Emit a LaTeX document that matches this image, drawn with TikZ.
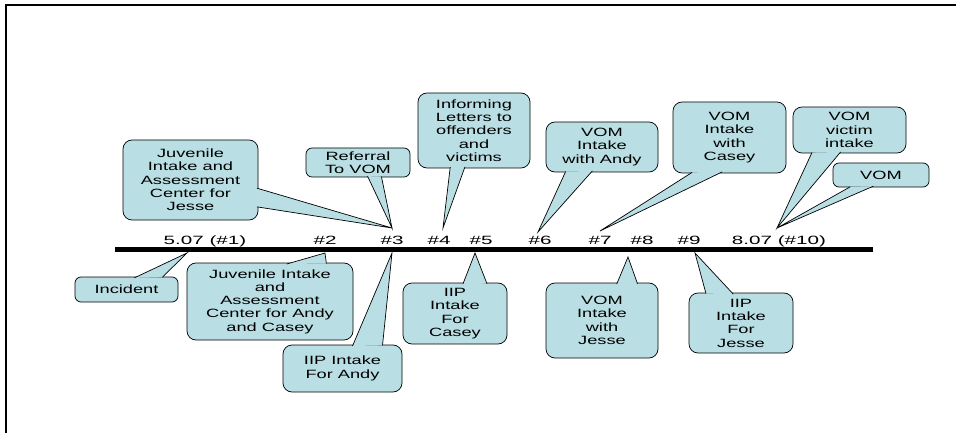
\documentclass[tikz,border=0pt]{standalone}
\usepackage{fontspec}
\setmainfont{Liberation Sans}[FakeStretch=1.52]
\newfontfamily\barfont{Liberation Sans}[FakeStretch=1.72]
\usetikzlibrary{calc}
\definecolor{bubble}{RGB}{185,223,228}

\begin{document}
\begin{tikzpicture}[x=1pt,y=-1pt,
   bubblebox/.style={draw,fill=bubble,rounded corners=9pt,line width=.7pt,
     align=center,inner sep=2pt,font=\fontsize{12}{13.3}\selectfont},
   tail/.style={draw,fill=bubble,line width=.7pt},
   datelabel/.style={anchor=base,font=\barfont\fontsize{12}{14}\selectfont}]
   \useasboundingbox (0,0) rectangle (956,433);
   \draw[line width=2.2pt] (6,433) -- (6,5) -- (956,5);

   % time line
   \coordinate (start) at (115,249.5);
   \coordinate (end) at (873,249.5);
   \draw[line width=5.8pt] (start) -- (end);
   \node[datelabel] (l1) at (205,244) {5.07 (\#1)};
   \node[datelabel] (l2) at (325,244) {\#2};
   \node[datelabel] (l3) at (392,244) {\#3};
   \node[datelabel] (l4) at (439,244) {\#4};
   \node[datelabel] (l5) at (481,244) {\#5};
   \node[datelabel] (l6) at (540,244) {\#6};
   \node[datelabel] (l7) at (600,244) {\#7};
   \node[datelabel] (l8) at (642,244) {\#8};
   \node[datelabel] (l9) at (689,244) {\#9};
   \node[datelabel] (l10) at (779,244) {8.07 (\#10)};

   % tips on the line
   \coordinate (p3) at (392,228);
   \coordinate (p4) at (443,228);
   \coordinate (p6) at (538,232);
   \coordinate (p7) at (600,231);
   \coordinate (p10) at (777,228);
   \coordinate (q1) at (187,253);
   \coordinate (q2) at (325,253);
   \coordinate (q3) at (392,253);
   \coordinate (q5) at (475,253);
   \coordinate (q8) at (628,257);
   \coordinate (q9) at (695,253);

   % above the line
   \node[bubblebox,minimum width=135,minimum height=80] (jesse) at (190.5,180)
     {Juvenile\\Intake and\\Assessment\\Center for\\Jesse};
   \node[bubblebox,rounded corners=6pt,minimum width=104,minimum height=29] (referral) at (358,162.5)
     {Referral\\To VOM};
   \node[bubblebox,minimum width=112,minimum height=75] (letters) at (474,130.5)
     {Informing\\Letters to\\offenders\\and\\victims};
   \node[bubblebox,minimum width=112,minimum height=50] (vomandy) at (602,147)
     {VOM\\Intake\\with Andy};
   \node[bubblebox,minimum width=113,minimum height=71] (vomcasey) at (729.5,137.5)
     {VOM\\Intake\\with\\Casey};
   \node[bubblebox,minimum width=113,minimum height=46] (victim) at (849.5,130)
     {VOM\\victim\\intake};
   \node[bubblebox,rounded corners=6pt,minimum width=96,minimum height=24] (vom) at (881,175)
     {VOM};

   % below the line
   \node[bubblebox,rounded corners=6pt,minimum width=103,minimum height=25] (incident) at (126.5,289.5)
     {Incident};
   \node[bubblebox,minimum width=166,minimum height=77] (juvac) at (270,301.5)
     {Juvenile Intake\\and\\Assessment\\Center for Andy\\and Casey};
   \node[bubblebox,minimum width=119,minimum height=47] (iipandy) at (342.5,368.5)
     {IIP Intake\\For Andy};
   \node[bubblebox,minimum width=104,minimum height=61] (iipcasey) at (455,313.5)
     {IIP\\Intake\\For\\Casey};
   \node[bubblebox,minimum width=112,minimum height=75] (vomjesse) at (602,320.5)
     {VOM\\Intake\\with\\Jesse};
   \node[bubblebox,minimum width=104,minimum height=60] (iipjesse) at (741,323)
     {IIP\\Intake\\For\\Jesse};

   % pointers
   \path[tail] ($(jesse.-7)!1.5pt!(jesse.center)$) -- (p3) -- ($(jesse.-22)!1.5pt!(jesse.center)$);
   \path[tail] ($(referral.-55)!1.5pt!(referral.center)$) -- (p3) -- ($(referral.-31)!1.5pt!(referral.center)$);
   \path[tail] ($(letters.-123)!1.5pt!(letters.center)$) -- (p4) -- ($(letters.-104)!1.5pt!(letters.center)$);
   \path[tail] ($(vomandy.-146)!1.5pt!(vomandy.center)$) -- (p6) -- ($(vomandy.-112)!1.5pt!(vomandy.center)$);
   \path[tail] ($(vomcasey.-137)!1.5pt!(vomcasey.center)$) -- (p7) -- ($(vomcasey.-102)!1.5pt!(vomcasey.center)$);
   \path[tail] ($(victim.-149)!1.5pt!(victim.center)$) -- (p10) -- ($(victim.-112)!1.5pt!(victim.center)$);
   \path[tail] ($(vom.-159)!1.5pt!(vom.center)$) -- (p10) -- ($(vom.-124)!1.5pt!(vom.center)$);
   \path[tail] ($(incident.56)!1.5pt!(incident.center)$) -- (q1) -- ($(incident.19)!1.5pt!(incident.center)$);
   \path[tail] ($(juvac.66)!1.5pt!(juvac.center)$) -- (q2) -- ($(juvac.34)!1.5pt!(juvac.center)$);
   \path[tail] ($(iipandy.66)!1.5pt!(iipandy.center)$) -- (q3) -- ($(iipandy.30)!1.5pt!(iipandy.center)$);
   \path[tail] ($(iipcasey.75)!1.5pt!(iipcasey.center)$) -- (q5) -- ($(iipcasey.43)!1.5pt!(iipcasey.center)$);
   \path[tail] ($(vomjesse.68)!1.5pt!(vomjesse.center)$) -- (q8) -- ($(vomjesse.46)!1.5pt!(vomjesse.center)$);
   \path[tail] ($(iipjesse.140)!1.5pt!(iipjesse.center)$) -- (q9) -- ($(iipjesse.105)!1.5pt!(iipjesse.center)$);
\end{tikzpicture}
\end{document}
